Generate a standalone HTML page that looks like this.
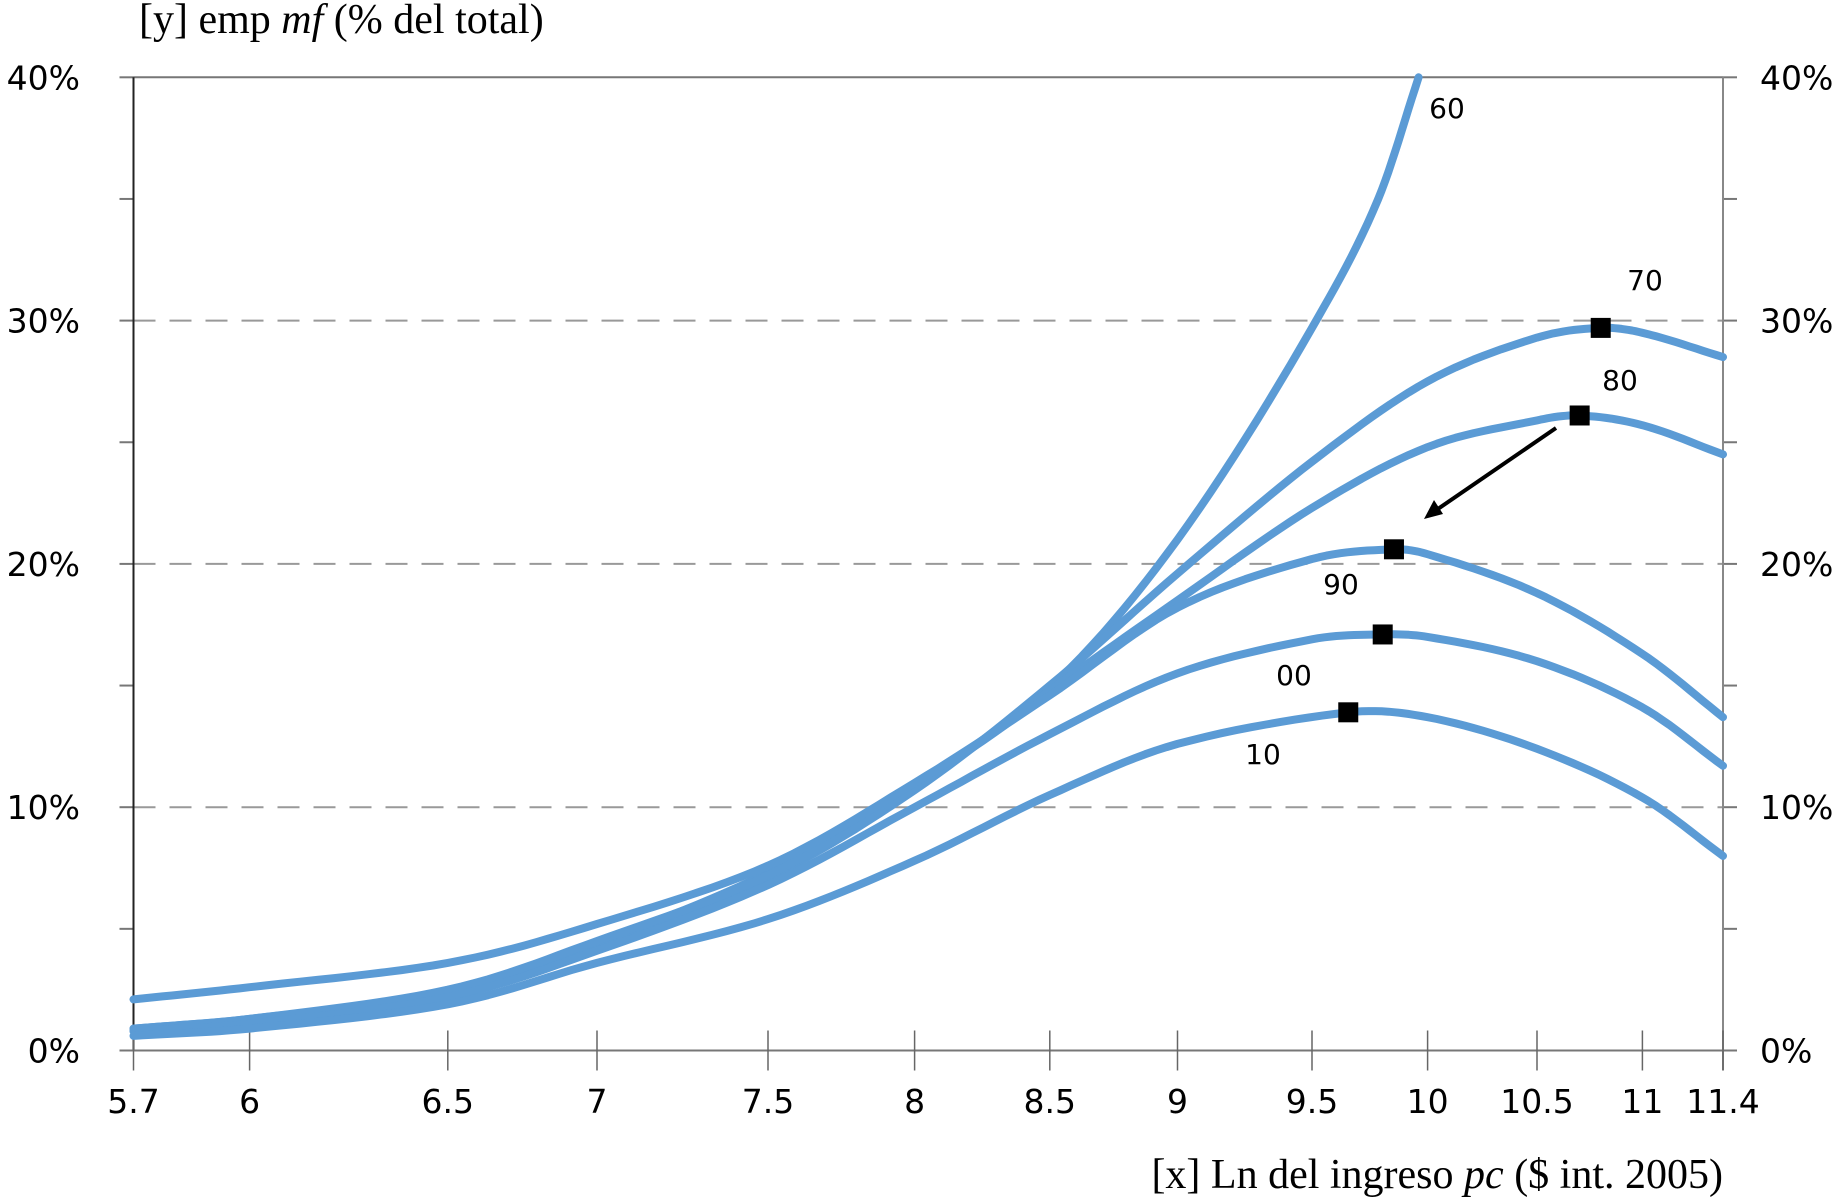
<!DOCTYPE html>
<html><head><meta charset="utf-8"><style>
html,body{margin:0;padding:0;background:#fff;}
svg{display:block;}
.tk{font-family:"DejaVu Sans","Liberation Sans",sans-serif;font-size:33px;fill:#000;}
.ttl{font-family:"Liberation Serif",serif;font-size:42px;fill:#000;}
.lbl{font-family:"DejaVu Sans","Liberation Sans",sans-serif;font-size:28px;fill:#000;}
</style></head><body>
<svg id="chart" width="1845" height="1200" viewBox="0 0 1845 1200" xmlns="http://www.w3.org/2000/svg">
<g id="grid"></g>
<g id="axes"></g>
<g id="series"></g>
<g id="marks"></g>
<g id="labels"></g>
<text class="ttl" x="139" y="33">[y] emp <tspan font-style="italic">mf</tspan> (% del total)</text>
<text class="ttl" x="1723" y="1188" text-anchor="end">[x] Ln del ingreso <tspan font-style="italic">pc</tspan> ($ int. 2005)</text>
<line x1="1556" y1="428" x2="1432" y2="513" stroke="#000" stroke-width="4"/>
<polygon points="1424,519 1434,500 1443,514" fill="#000"/>
</svg>
<script>
const xTicks=[5.7,6,6.5,7,7.5,8,8.5,9,9.5,10,10.5,11,11.4];
const xTickLabels=["5.7","6","6.5","7","7.5","8","8.5","9","9.5","10","10.5","11","11.4"];
const yTicks=[0,10,20,30,40];
const yTickLabels=["0%","10%","20%","30%","40%"];
const seriesNames=["60","70","80","90","00","10"];
const x60=[5.7,6,6.5,7,7.5,8,8.5,9,9.5,9.78,9.96];
const y60=[0.9,1.3,2.4,4.4,7.3,10.9,14.9,21,29.7,35,40];
const x70=[5.7,6,6.5,7,7.5,8,8.5,9,9.5,10,10.5,10.8,11,11.4];
const y70=[0.8,1.2,2.2,4.3,7.1,10.7,15,19.6,24.2,27.5,29.3,29.7,29.5,28.5];
const x80=[5.7,6,6.5,7,7.5,8,8.5,9,9.5,10,10.5,10.7,11,11.4];
const y80=[0.9,1.3,2.5,4.5,7.2,10.8,14.8,18.5,22.3,24.8,25.9,26.1,25.7,24.5];
const x90=[5.7,6,6.5,7,7.5,8,8.5,9,9.5,9.85,10,10.5,11,11.4];
const y90=[2.1,2.6,3.6,5.2,7.6,11,14.6,18.2,20.2,20.6,20.4,18.8,16.3,13.7];
const x00=[5.7,6,6.5,7,7.5,8,8.5,9,9.5,9.8,10,10.5,11,11.4];
const y00=[0.8,1.1,2.2,4.1,6.8,10,13,15.5,16.9,17.1,17,16,14.1,11.7];
const x10=[5.7,6,6.5,7,7.5,8,8.5,9,9.65,10,10.5,11,11.4];
const y10=[0.6,0.9,1.9,3.6,5.4,7.8,10.5,12.6,13.9,13.7,12.4,10.4,8.0];
const peakX=[10.8,10.7,9.85,9.8,9.65];
const peakY=[29.7,26.1,20.6,17.1,13.9];
const labelNames=["60","70","80","90","00","10"];

const NS="http://www.w3.org/2000/svg";
const xPix=[133.5,249.6,447.8,597,768,914.6,1049.8,1177.5,1312,1427.6,1537,1642.4,1723];
// smooth (cubic Hermite) axis calibration
const slopes=xTicks.map((v,i)=>{
  const a=Math.max(0,i-1),b=Math.min(xTicks.length-1,i+1);
  return (xPix[b]-xPix[a])/(xTicks[b]-xTicks[a]);
});
function X(v){
  if(v<=xTicks[0])return xPix[0];
  for(let i=0;i<xTicks.length-1;i++){
    if(v<=xTicks[i+1]){
      const h=xTicks[i+1]-xTicks[i],t=(v-xTicks[i])/h;
      const t2=t*t,t3=t2*t;
      return (2*t3-3*t2+1)*xPix[i]+(t3-2*t2+t)*h*slopes[i]+(-2*t3+3*t2)*xPix[i+1]+(t3-t2)*h*slopes[i+1];
    }
  }
  return xPix[xPix.length-1];
}
const Y0=1050.5,Y40=77.3;
function Y(v){return Y0+(Y40-Y0)*v/40;}
function mk(tag,attrs,parent){const e=document.createElementNS(NS,tag);for(const k in attrs)e.setAttribute(k,attrs[k]);parent.appendChild(e);return e;}
const L=133.5,R=1723;
const grid=document.getElementById('grid'),axes=document.getElementById('axes');
yTicks.forEach((v,i)=>{
  let ln;
  if(v===40){ln=mk('line',{x1:L,x2:R,y1:Y(v),y2:Y(v),stroke:'#777','stroke-width':2},grid);}
  else if(v>0){ln=mk('line',{x1:L,x2:R,y1:Y(v),y2:Y(v),stroke:'#999','stroke-width':2,'stroke-dasharray':'22,14'},grid);}
  if(ln){}
  const t=mk('text',{x:80,y:Y(v)+12,'text-anchor':'end',class:'tk'},axes);t.textContent=yTickLabels[i];
  
  
  const t2=mk('text',{x:1760,y:Y(v)+12,class:'tk'},axes);t2.textContent=yTickLabels[i];
  
  
});
for(let v=0;v<=40;v+=5){
  const a=mk('line',{x1:L-14,x2:L,y1:Y(v),y2:Y(v),stroke:'#777','stroke-width':2},axes);
  
  
  const b=mk('line',{x1:R,x2:R+14,y1:Y(v),y2:Y(v),stroke:'#777','stroke-width':2},axes);
  
  
}
let e;
e=mk('line',{x1:L,x2:L,y1:Y(40),y2:Y(0),stroke:'#222','stroke-width':2},axes);


e=mk('line',{x1:R,x2:R,y1:Y(40),y2:Y(0)+20,stroke:'#888','stroke-width':2},axes);


e=mk('line',{x1:121,x2:1735,y1:Y(0),y2:Y(0),stroke:'#777','stroke-width':2},axes);


xTicks.forEach((v,i)=>{
  const tl=mk('line',{x1:X(v),x2:X(v),y1:Y(0)-20,y2:Y(0)+20,stroke:'#666','stroke-width':1.5},axes);
  
  
  const t=mk('text',{x:X(v),y:1113,'text-anchor':'middle',class:'tk'},axes);t.textContent=xTickLabels[i];
  
  
});
// smooth curve: Hermite spline in data space, sampled through X()/Y()
function pathFor(xs,ys){
  const n=xs.length,m=[];
  for(let i=0;i<n;i++){
    const a=Math.max(0,i-1),b=Math.min(n-1,i+1);
    m.push((ys[b]-ys[a])/(xs[b]-xs[a]));
  }
  let d='M'+X(xs[0]).toFixed(1)+','+Y(ys[0]).toFixed(1);
  for(let i=0;i<n-1;i++){
    const h=xs[i+1]-xs[i];
    for(let k=1;k<=12;k++){
      const t=k/12,t2=t*t,t3=t2*t;
      const y=(2*t3-3*t2+1)*ys[i]+(t3-2*t2+t)*h*m[i]+(-2*t3+3*t2)*ys[i+1]+(t3-t2)*h*m[i+1];
      d+=' L'+X(xs[i]+t*h).toFixed(1)+','+Y(y).toFixed(1);
    }
  }
  return d;
}
const sg=document.getElementById('series');
const all=[[x60,y60],[x70,y70],[x80,y80],[x90,y90],[x00,y00],[x10,y10]];
all.forEach((s,i)=>{
  const pth=mk('path',{d:pathFor(s[0],s[1]),fill:'none',stroke:'#5b9bd5','stroke-width':8,'stroke-linecap':'round','stroke-linejoin':'round'},sg);
  
  
});
const mg=document.getElementById('marks');
peakX.forEach((v,i)=>{
  const r=mk('rect',{x:X(v)-10,y:Y(peakY[i])-10,width:20,height:20,fill:'#000'},mg);
  
  
});
const lpos=[[1447,118],[1645,290],[1620,390],[1341,594],[1294,685],[1263,764]];
const lg=document.getElementById('labels');
labelNames.forEach((n,i)=>{
  const t=mk('text',{x:lpos[i][0],y:lpos[i][1],'text-anchor':'middle',class:'lbl'},lg);t.textContent=n;
  
  
});
</script>
</body></html>
